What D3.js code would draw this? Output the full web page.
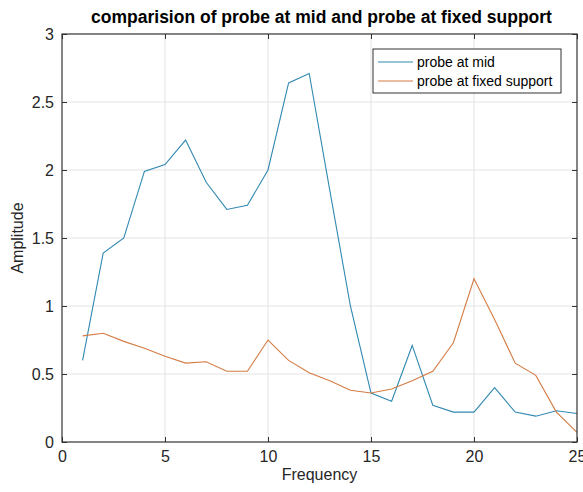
<!DOCTYPE html>
<html>
<head>
<meta charset="utf-8">
<script src="https://cdn.jsdelivr.net/npm/d3@7"></script>
<style>
  body { margin: 0; background: #fff; }
  svg { font-family: "Liberation Sans", Arial, sans-serif; }
</style>
</head>
<body>
<div id="chart"></div>
<script>
// datos
const frequency = d3.range(1, 26);
const probeMid = [0.60, 1.39, 1.50, 1.99, 2.04, 2.22, 1.91, 1.71, 1.74, 2.00,
                  2.64, 2.71, 1.85, 1.00, 0.36, 0.30, 0.71, 0.27, 0.22, 0.22,
                  0.40, 0.22, 0.19, 0.23, 0.21];
const probeFixed = [0.78, 0.80, 0.74, 0.69, 0.63, 0.58, 0.59, 0.52, 0.52, 0.75,
                    0.60, 0.51, 0.45, 0.38, 0.36, 0.39, 0.45, 0.52, 0.73, 1.20,
                    0.90, 0.58, 0.49, 0.22, 0.07];
const xTicks = [0, 5, 10, 15, 20, 25];
const yTicks = [0, 0.5, 1, 1.5, 2, 2.5, 3];
const seriesNames = ["probe at mid", "probe at fixed support"];
const colors = ["#3289b2", "#d47c45"];

const W = 583, H = 492;
const margin = { top: 34, right: 6, bottom: 50, left: 62 };
const width = W - margin.left - margin.right;
const height = H - margin.top - margin.bottom;

const svg = d3.select("#chart").append("svg")
    .attr("width", W)
    .attr("height", H);

const g = svg.append("g")
    .attr("transform", `translate(${margin.left},${margin.top})`);

const x = d3.scaleLinear().domain([0, 25]).range([0, width]);
const y = d3.scaleLinear().domain([0, 3]).range([height, 0]);

// grid
g.selectAll(".gx").data(xTicks.slice(1, -1)).enter().append("line")
    .attr("x1", d => x(d)).attr("x2", d => x(d))
    .attr("y1", 0).attr("y2", height)
    .attr("stroke", "#e3e3e3");
g.selectAll(".gy").data(yTicks.slice(1, -1)).enter().append("line")
    .attr("y1", d => y(d)).attr("y2", d => y(d))
    .attr("x1", 0).attr("x2", width)
    .attr("stroke", "#e3e3e3");

// ejes
const styleAxis = sel => {
    sel.select(".domain").remove();
    sel.selectAll(".tick line").attr("stroke", "#333");
    sel.selectAll(".tick text").attr("fill", "#262626").attr("font-size", 16);
};
g.append("g")
    .attr("transform", `translate(0,${height})`)
    .call(d3.axisBottom(x).tickValues(xTicks).tickSize(-5).tickPadding(9))
    .call(styleAxis);
g.append("g")
    .call(d3.axisLeft(y).tickValues(yTicks).tickFormat(d3.format("")).tickSize(-5).tickPadding(8))
    .call(styleAxis);
g.append("g")
    .call(d3.axisTop(x).tickValues(xTicks).tickSize(-5).tickFormat(""))
    .call(styleAxis);
g.append("g")
    .attr("transform", `translate(${width},0)`)
    .call(d3.axisRight(y).tickValues(yTicks).tickSize(-5).tickFormat(""))
    .call(styleAxis);

// lineas
const line = d3.line().x((d, i) => x(frequency[i])).y(d => y(d));
[probeMid, probeFixed].forEach((s, k) => {
    g.append("path")
        .datum(s)
        .attr("fill", "none")
        .attr("stroke", colors[k])
        .attr("stroke-width", 1.1)
        .attr("d", line);
});

// marco
g.append("rect")
    .attr("width", width).attr("height", height)
    .attr("fill", "none").attr("stroke", "#333").attr("stroke-width", 1.2);

// leyenda
const legend = svg.append("g").attr("transform", "translate(373,49)");
legend.append("rect")
    .attr("width", 188).attr("height", 44)
    .attr("fill", "#fff").attr("stroke", "#333");
seriesNames.forEach((name, i) => {
    const yy = 13 + i * 19;
    legend.append("line")
        .attr("x1", 5).attr("x2", 40)
        .attr("y1", yy).attr("y2", yy)
        .attr("stroke", colors[i]).attr("stroke-width", 1.1);
    legend.append("text")
        .attr("x", 44).attr("y", yy + 5)
        .attr("font-size", 14).attr("fill", "#000")
        .text(name);
});

// titulos
svg.append("text")
    .attr("x", margin.left + width / 2 + 2).attr("y", 23)
    .attr("text-anchor", "middle")
    .attr("font-size", 17.5).attr("font-weight", "bold")
    .text("comparision of probe at mid and probe at fixed support");
svg.append("text")
    .attr("x", margin.left + width / 2).attr("y", 480)
    .attr("text-anchor", "middle")
    .attr("font-size", 16).attr("fill", "#262626")
    .text("Frequency");
svg.append("text")
    .attr("transform", `translate(23,${margin.top + height / 2}) rotate(-90)`)
    .attr("text-anchor", "middle")
    .attr("font-size", 16).attr("fill", "#262626")
    .text("Amplitude");
</script>
</body>
</html>
